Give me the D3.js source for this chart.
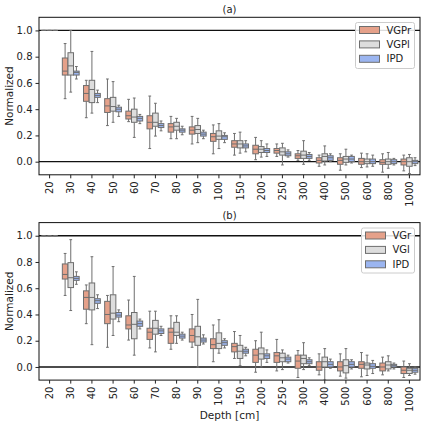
<!DOCTYPE html>
<html><head><meta charset="utf-8">
<script src="https://cdn.jsdelivr.net/npm/d3@7"></script>
<style>body{margin:0;background:#fff}svg{display:block}text{font-family:"DejaVu Sans",sans-serif}</style>
</head><body><svg id="c" width="424" height="424"></svg>
<script>
// categories (depth in cm)
const depths = ["20","30","40","50","60","70","80","90","100","150","200","250","300","400","500","600","800","1000"];
const yTicks = [0.0,0.2,0.4,0.6,0.8,1.0];
const seriesA = ["VGPr","VGPl","IPD"];
const seriesB = ["VGr","VGl","IPD"];
const colors = ["#e5a18a","#dddddd","#9bb5f0"];
// each entry: [whiskerLow, q1, median, q3, whiskerHigh]
const aVGPr = [[1,1,1,1,1],[0.48,0.66,0.69,0.79,0.90],[0.335,0.46,0.52,0.58,0.62],[0.275,0.375,0.425,0.48,0.63],[0.305,0.325,0.35,0.385,0.475],[0.10,0.25,0.30,0.35,0.50],[0.175,0.225,0.265,0.29,0.345],[0.135,0.21,0.24,0.265,0.345],[0.06,0.155,0.19,0.215,0.28],[0.05,0.11,0.135,0.16,0.215],[0.015,0.06,0.095,0.125,0.185],[0.04,0.065,0.085,0.10,0.135],[0.01,0.025,0.045,0.06,0.085],[-0.035,-0.01,0.01,0.03,0.05],[-0.065,-0.02,0.01,0.03,0.06],[-0.045,-0.02,0.0,0.025,0.065],[-0.08,-0.02,-0.005,0.015,0.06],[-0.07,-0.025,0.0,0.02,0.05]];
const aVGPl = [[1,1,1,1,1],[0.53,0.66,0.73,0.83,1.0],[0.37,0.45,0.55,0.62,0.84],[0.30,0.385,0.42,0.49,0.61],[0.185,0.30,0.34,0.40,0.485],[0.195,0.27,0.30,0.37,0.445],[0.175,0.24,0.27,0.30,0.33],[0.145,0.215,0.245,0.275,0.33],[0.10,0.17,0.195,0.235,0.29],[0.065,0.105,0.135,0.16,0.225],[0.035,0.07,0.095,0.115,0.16],[-0.025,0.05,0.075,0.105,0.14],[-0.02,0.025,0.05,0.08,0.16],[-0.025,0.005,0.04,0.06,0.12],[-0.025,-0.005,0.02,0.04,0.095],[-0.04,-0.015,0.0,0.02,0.06],[-0.05,-0.02,0.0,0.02,0.07],[-0.09,-0.035,0.0,0.03,0.055]];
const aIPD = [[1,1,1,1,1],[0.63,0.66,0.68,0.69,0.725],[0.45,0.49,0.505,0.52,0.545],[0.345,0.38,0.40,0.415,0.43],[0.29,0.31,0.33,0.345,0.36],[0.235,0.26,0.275,0.29,0.31],[0.205,0.225,0.24,0.25,0.27],[0.175,0.195,0.21,0.225,0.24],[0.145,0.17,0.19,0.20,0.22],[0.075,0.105,0.12,0.135,0.16],[0.04,0.07,0.085,0.10,0.135],[0.035,0.045,0.06,0.075,0.09],[0.01,0.025,0.04,0.055,0.07],[0.0,0.01,0.03,0.045,0.06],[-0.01,0.0,0.02,0.04,0.05],[-0.035,-0.015,0.0,0.02,0.05],[-0.025,-0.015,0.0,0.015,0.025],[-0.03,-0.015,0.0,0.01,0.03]];
const bVGr = [[1,1,1,1,1],[0.545,0.67,0.705,0.785,0.865],[0.33,0.44,0.53,0.58,0.625],[0.15,0.33,0.40,0.50,0.545],[0.205,0.29,0.32,0.39,0.51],[0.145,0.21,0.265,0.295,0.425],[0.135,0.18,0.265,0.295,0.39],[0.15,0.19,0.24,0.29,0.40],[0.04,0.14,0.17,0.215,0.32],[0.065,0.115,0.155,0.18,0.27],[-0.04,0.035,0.09,0.135,0.20],[-0.03,0.035,0.085,0.11,0.21],[-0.08,-0.01,0.045,0.09,0.125],[-0.06,-0.025,0.0,0.04,0.10],[-0.07,-0.03,0.0,0.04,0.10],[-0.075,-0.01,0.02,0.04,0.11],[-0.06,-0.03,0.0,0.03,0.075],[-0.08,-0.05,-0.025,0.0,0.045]];
const bVGl = [[1,1,1,1,1],[0.43,0.605,0.68,0.795,0.97],[0.17,0.435,0.53,0.64,0.84],[0.24,0.365,0.41,0.55,0.765],[0.09,0.215,0.325,0.415,0.69],[0.115,0.25,0.295,0.355,0.425],[0.18,0.24,0.265,0.34,0.39],[0.0,0.165,0.23,0.31,0.515],[0.105,0.14,0.18,0.26,0.36],[0.01,0.065,0.12,0.165,0.24],[0.0,0.06,0.10,0.145,0.265],[-0.02,0.04,0.07,0.105,0.13],[-0.02,0.025,0.065,0.09,0.185],[-0.10,0.0,0.04,0.075,0.14],[-0.085,-0.045,0.01,0.055,0.14],[-0.065,-0.015,0.015,0.03,0.09],[-0.03,-0.015,0.015,0.04,0.085],[-0.065,-0.05,-0.025,-0.01,0.025]];
const bIPD = [[1,1,1,1,1],[0.63,0.66,0.675,0.69,0.725],[0.445,0.485,0.505,0.52,0.55],[0.345,0.38,0.395,0.415,0.435],[0.29,0.31,0.33,0.35,0.365],[0.24,0.255,0.275,0.29,0.31],[0.205,0.22,0.235,0.25,0.265],[0.175,0.19,0.205,0.22,0.245],[0.145,0.165,0.185,0.20,0.215],[0.085,0.105,0.12,0.135,0.15],[0.035,0.065,0.085,0.10,0.13],[0.03,0.04,0.06,0.075,0.09],[0.01,0.025,0.04,0.055,0.07],[-0.01,0.0,0.02,0.04,0.06],[-0.015,0.0,0.02,0.04,0.055],[-0.05,-0.01,0.005,0.025,0.05],[-0.015,0.0,0.01,0.02,0.03],[-0.055,-0.04,-0.025,-0.01,0.0]];

const svg = d3.select("#c");
const edge = "#6e6e6e";
const L = 39, R = 420;

function panel(cfg){
  const {top, bottom, title, names, data, legend, id, xlabel} = cfg;
  const g = svg.append("g");
  const x = d3.scaleBand().domain(depths).range([L, R]).padding(0);
  const y = d3.scaleLinear().domain([-0.1, 1.1]).range([bottom, top]);
  const inner = d3.scaleBand().domain(names).range([0, x.bandwidth()*0.8]).padding(0);
  const clip = "clip"+id;
  svg.append("clipPath").attr("id", clip).append("rect").attr("x", L).attr("y", top).attr("width", R-L).attr("height", bottom-top);
  // reference lines
  [0,1].forEach(v => g.append("line").attr("x1", L).attr("x2", R).attr("y1", y(v)).attr("y2", y(v)).attr("stroke", "#111").attr("stroke-width", 1.3));
  const pg = g.append("g").attr("clip-path", `url(#${clip})`);
  names.forEach((nm, si) => {
    const bw = inner.bandwidth()*0.98;
    data[si].forEach((d, ci) => {
      const x0 = x(depths[ci]) + x.bandwidth()*0.1 + inner(nm) + (inner.bandwidth()-bw)/2;
      const xc = x0 + bw/2;
      const [lo, q1, med, q3, hi] = d;
      const bg = pg.append("g").attr("stroke", edge).attr("stroke-width", 1);
      bg.append("line").attr("x1", xc).attr("x2", xc).attr("y1", y(q3)).attr("y2", y(hi));
      bg.append("line").attr("x1", xc).attr("x2", xc).attr("y1", y(q1)).attr("y2", y(lo));
      bg.append("line").attr("x1", xc-bw/4).attr("x2", xc+bw/4).attr("y1", y(hi)).attr("y2", y(hi));
      bg.append("line").attr("x1", xc-bw/4).attr("x2", xc+bw/4).attr("y1", y(lo)).attr("y2", y(lo));
      bg.append("rect").attr("x", x0).attr("width", bw).attr("y", y(q3)).attr("height", Math.max(0, y(q1)-y(q3))).attr("fill", colors[si]);
      bg.append("line").attr("x1", x0).attr("x2", x0+bw).attr("y1", y(med)).attr("y2", y(med));
    });
  });
  // frame
  g.append("rect").attr("x", L).attr("y", top).attr("width", R-L).attr("height", bottom-top).attr("fill", "none").attr("stroke", "#111").attr("stroke-width", 1);
  // axes
  const ya = g.append("g").attr("transform", `translate(${L},0)`).call(d3.axisLeft(y).tickValues(yTicks).tickFormat(d3.format(".1f")).tickSize(3.5).tickPadding(3));
  ya.select(".domain").remove();
  ya.selectAll("text").attr("font-size", 10).attr("fill", "#222").style("font-family", "DejaVu Sans");
  ya.selectAll("line").attr("stroke", "#222");
  const xa = g.append("g").attr("transform", `translate(0,${bottom})`).call(d3.axisBottom(x).tickSize(3.5).tickPadding(3));
  xa.select(".domain").remove();
  xa.selectAll("line").attr("stroke", "#222");
  xa.selectAll("text").attr("font-size", 10).attr("fill", "#222").style("font-family", "DejaVu Sans")
    .attr("transform", "rotate(-90)").attr("text-anchor", "end").attr("dy", "0.35em").attr("y", 0).attr("x", -6.5);
  // titles
  g.append("text").attr("x", (L+R)/2).attr("y", top-4).attr("text-anchor", "middle").attr("font-size", 10).attr("fill", "#222").text(title);
  g.append("text").attr("transform", `translate(13,${(top+bottom)/2}) rotate(-90)`).attr("text-anchor", "middle").attr("font-size", 10.5).attr("fill", "#222").text("Normalized");
  if (xlabel) g.append("text").attr("x", (L+R)/2).attr("y", 419).attr("text-anchor", "middle").attr("font-size", 10.5).attr("fill", "#222").text(xlabel);
  // legend
  const lg = g.append("g").attr("transform", `translate(${legend.x},${legend.y})`);
  lg.append("rect").attr("width", legend.w).attr("height", legend.h).attr("rx", 2).attr("fill", "#fff").attr("fill-opacity", 0.85).attr("stroke", "#ccc");
  names.forEach((nm, i) => {
    const yy = 7.5 + i*14.4;
    lg.append("rect").attr("x", 4).attr("y", yy-3.5).attr("width", 20).attr("height", 7).attr("fill", colors[i]).attr("stroke", edge).attr("stroke-width", 1);
    lg.append("text").attr("x", 31).attr("y", yy).attr("dy", "0.35em").attr("font-size", 10).attr("fill", "#222").text(nm);
  });
}

panel({id:"a", top:17.3, bottom:174.8, title:"(a)", names:seriesA, data:[aVGPr,aVGPl,aIPD], legend:{x:355.5,y:22.5,w:59,h:46}});
panel({id:"b", top:222.6, bottom:380.1, title:"(b)", names:seriesB, data:[bVGr,bVGl,bIPD], legend:{x:361.5,y:228,w:53,h:45}, xlabel:"Depth [cm]"});
</script></body></html>
